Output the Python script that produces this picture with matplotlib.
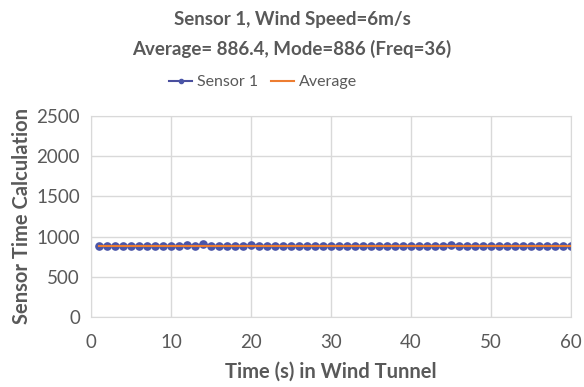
import matplotlib
matplotlib.use("Agg")
import matplotlib.pyplot as plt
import numpy as np

time_s = list(range(1, 61))
sensor1 = [886, 886, 885, 886, 886, 885, 886, 886, 886, 885,
           886, 893, 886, 905, 886, 885, 886, 886, 885, 893,
           886, 886, 885, 886, 886, 885, 886, 886, 885, 886,
           886, 885, 886, 886, 885, 886, 886, 885, 886, 886,
           885, 886, 886, 885, 897, 886, 885, 886, 886, 885,
           886, 886, 885, 886, 886, 885, 886, 886, 885, 886]
average_val = 886.4
x_ticks = [0, 10, 20, 30, 40, 50, 60]
y_ticks = [0, 500, 1000, 1500, 2000, 2500]

plt.rcParams['font.family'] = ['Lato', 'DejaVu Sans']
txt = '#595959'
grid = '#d9d9d9'

fig = plt.figure(figsize=(5.84, 3.87), dpi=100)
ax = fig.add_axes([91/584, 1-317/387, 480/584, 201/387])

ax.plot(time_s, [average_val]*len(time_s), color='#ED7D31', lw=1.5, zorder=3, label='Average')
ax.plot(time_s, sensor1, color='#4a4f9e', lw=1.5, marker='o', ms=5.2,
        markerfacecolor='#4a55a8', markeredgecolor='#4a55a8', zorder=2, label='Sensor 1')

ax.set_xlim(0, 60)
ax.set_ylim(0, 2500)
ax.set_xticks(x_ticks)
ax.set_yticks(y_ticks)
ax.grid(True, color=grid, lw=1)
ax.set_axisbelow(True)
for s in ax.spines.values():
    s.set_color(grid)
ax.tick_params(length=0, labelcolor=txt, labelsize=13.5)
ax.tick_params(axis='x', pad=12)
ax.tick_params(axis='y', pad=8)

ax.set_xlabel('Time (s) in Wind Tunnel', fontsize=14.5, fontweight='bold', color=txt, labelpad=8)
ax.set_ylabel('Sensor Time Calculation', fontsize=14.5, fontweight='bold', color=txt, labelpad=3)

fig.text(0.5, 1-19/387, 'Sensor 1, Wind Speed=6m/s', ha='center', va='center',
         fontsize=13.5, fontweight='bold', color=txt)
fig.text(0.5, 1-49/387, 'Average= 886.4, Mode=886 (Freq=36)', ha='center', va='center',
         fontsize=13.5, fontweight='bold', color=txt)

h, l = ax.get_legend_handles_labels()
leg = fig.legend([h[1], h[0]], [l[1], l[0]], loc='center', bbox_to_anchor=(263/584, 1-82/387),
                 ncol=2, frameon=False, fontsize=11.5, handlelength=1.45, columnspacing=0.8,
                 handletextpad=0.3, labelcolor=txt)
leg.legend_handles[0].set_markersize(3)

fig.savefig('out.png', dpi=100)
